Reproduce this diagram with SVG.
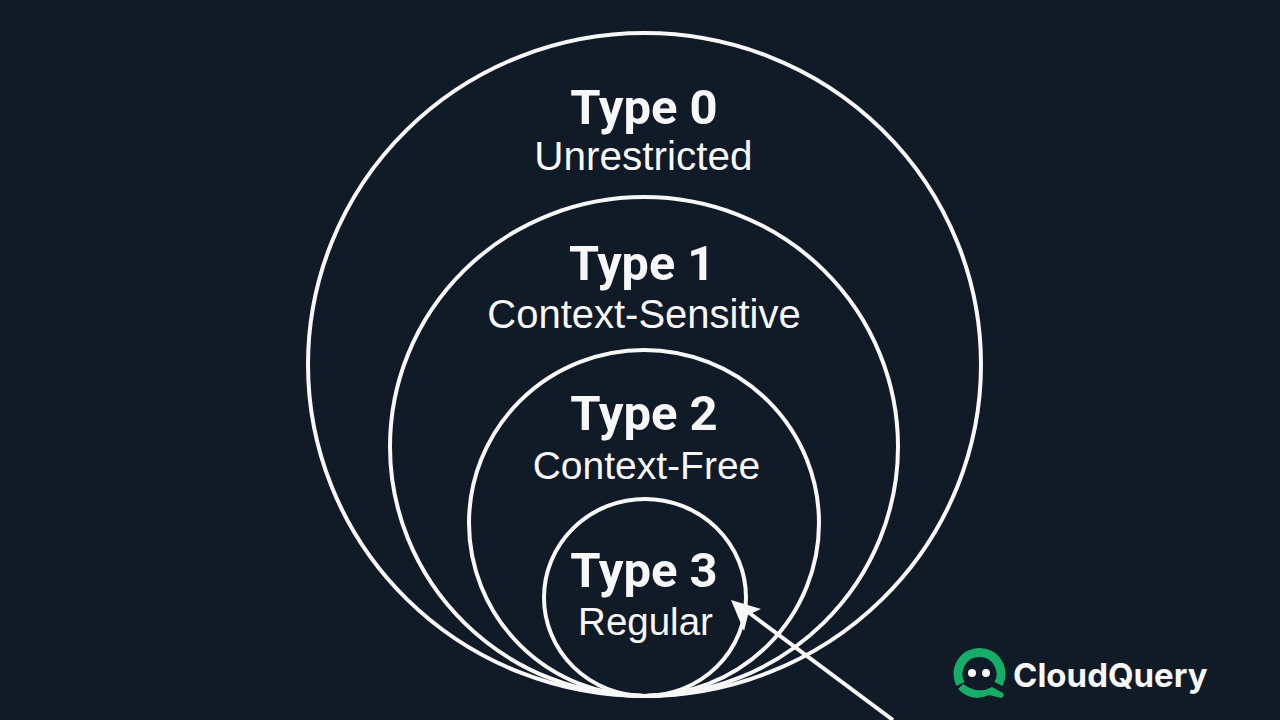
<svg xmlns="http://www.w3.org/2000/svg" width="1280" height="720" viewBox="0 0 1280 720">
<style>
.c{fill:none;stroke:#f7f7f7;stroke-width:4}
.t{fill:#f7f7f7;text-anchor:middle}
.h{font-family:Roboto,"Liberation Sans",sans-serif;font-size:49px;font-weight:700}
.s{font-family:"Liberation Sans",Arial,sans-serif;font-size:40px;font-weight:400}
.g{fill:none;stroke:#16ad66;stroke-width:9}
</style>
<rect width="1280" height="720" fill="#111a27"/>
<g id="type0"><ellipse class="c" cx="644.5" cy="364.5" rx="336.5" ry="331.5"/><text class="t h" x="644" y="124">Type 0</text><text class="t s" x="643.500" y="170" style="font-size:40.500px">Unrestricted</text></g>
<g id="type1"><ellipse class="c" cx="644" cy="446.5" rx="254" ry="249.5"/><text class="t h" x="642" y="280" style="font-size:48.500px">Type 1</text><text class="t s" x="644" y="328">Context-Sensitive</text></g>
<g id="type2"><ellipse class="c" cx="644" cy="523" rx="175" ry="173"/><text class="t h" x="644" y="430">Type 2</text><text class="t s" x="646.500" y="479" style="font-size:39px">Context-Free</text></g>
<g id="type3"><ellipse class="c" cx="645" cy="597.5" rx="101" ry="98.5"/><text class="t h" x="644" y="587">Type 3</text><text class="t s" x="645.500" y="635" style="font-size:38.500px">Regular</text></g>
<g id="connectors"><line x1="893" y1="720" x2="748" y2="612" stroke="#f7f7f7" stroke-width="4"/><path d="M731 600L761 609 748 615 744 631Z" fill="#f7f7f7"/></g>
<g id="logo"><path class="g" d="M962 683A21.500 21.500 0 1 1 1000 683" transform="translate(-1.500 1)"/><path d="M958 689L963 684Q978 695 992 687L1003 693Q1005 697 1001 698L989 695Q972 703 958 689Z" fill="#16ad66"/><circle cx="972" cy="673" r="4" fill="#f7f7f7"/><circle cx="986" cy="673" r="4" fill="#f7f7f7"/><text x="1013" y="687" font-family="Inter,'Liberation Sans',sans-serif" font-size="33" font-weight="700" fill="#f7f7f7">CloudQuery</text></g>
</svg>
